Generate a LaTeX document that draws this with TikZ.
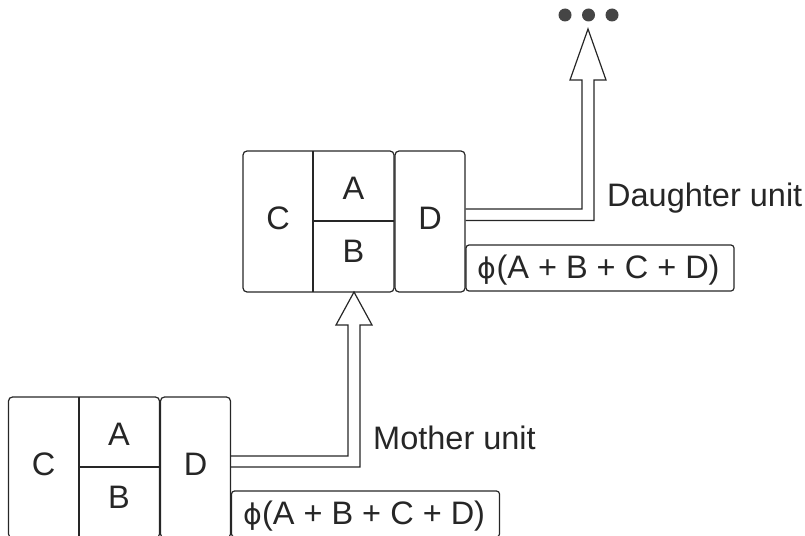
\documentclass[tikz,border=0pt]{standalone}
\usepackage{fontspec}
\setmainfont{Liberation Sans}
\newfontfamily\phifont{DejaVu Sans}
\newcommand{\myphi}{{\phifont\fontsize{28.5}{34}\selectfont ϕ}}
\definecolor{ink}{HTML}{262626}
\definecolor{dotc}{HTML}{454545}
\begin{document}
\begin{tikzpicture}[x=1pt,y=-1pt,
  every node/.style={text=ink},
  unitbox/.style={draw=ink, line width=1.2pt, rounded corners=4pt, inner sep=0pt},
  lbl/.style={inner sep=0pt, anchor=base, font=\fontsize{32.5}{38}\selectfont},
  wlbl/.style={inner sep=0pt, anchor=base west, font=\fontsize{32.5}{38}\selectfont},
  divider/.style={draw=ink, line width=1.2pt},
  hollow/.style={draw=ink, line width=1.2pt, line join=miter},
  dotnode/.style={circle, fill=dotc, minimum size=13pt, inner sep=0pt}]
\useasboundingbox (0,0) rectangle (805,535);
\clip (0,0) rectangle (805,535);

% ---------- Daughter unit (upper) ----------
\begin{scope}
  \node[unitbox, minimum width=151, minimum height=141] (dL) at (318.5,221.5) {};
  \node[unitbox, minimum width=70, minimum height=141] (dD) at (430,221.5) {};
  \node[unitbox, minimum width=268, minimum height=46, rounded corners=3pt] (dF) at (600,268) {};
  \coordinate (dv1) at (313,151);
  \coordinate (dv2) at (313,292);
  \coordinate (dh1) at (313,221);
  \coordinate (dh2) at (394,221);
  \draw[divider] (dv1) -- (dv2);
  \draw[divider] (dh1) -- (dh2);
  \node[lbl] (dC) at (278,229.5) {C};
  \node[lbl] (dA) at (353.5,199) {A};
  \node[lbl] (dB) at (353.5,262.5) {B};
  \node[lbl] (dDt) at (430,229) {D};
  \node[wlbl] (dFt) at (477.5,278.5) {\myphi(A + B + C + D)};
  \node[wlbl] (dLab) at (607,206) {Daughter unit};
\end{scope}

% ---------- Mother unit (lower) ----------
\begin{scope}
  \node[unitbox, minimum width=151, minimum height=141] (mL) at (84,467.5) {};
  \node[unitbox, minimum width=70, minimum height=141] (mD) at (195.5,467.5) {};
  \node[unitbox, minimum width=268, minimum height=46, rounded corners=3pt] (mF) at (365.5,514) {};
  \coordinate (mv1) at (79,397);
  \coordinate (mv2) at (79,538);
  \coordinate (mh1) at (79,467);
  \coordinate (mh2) at (160,467);
  \draw[divider] (mv1) -- (mv2);
  \draw[divider] (mh1) -- (mh2);
  \node[lbl] (mC) at (43.5,475.5) {C};
  \node[lbl] (mA) at (119,445) {A};
  \node[lbl] (mB) at (119,508.5) {B};
  \node[lbl] (mDt) at (195.5,475) {D};
  \node[wlbl] (mFt) at (243,524.5) {\myphi(A + B + C + D)};
  \node[wlbl] (mLab) at (373,449) {Mother unit};
\end{scope}

% ---------- dots ----------
\node[dotnode] (dot1) at (565,15) {};
\node[dotnode] (dot2) at (588.5,15) {};
\node[dotnode] (dot3) at (612,15) {};

% ---------- hollow arrows ----------
% mother -> daughter
\coordinate (ma1) at (mD.east |- 0,456);
\coordinate (ma2) at (mD.east |- 0,467);
\draw[hollow] (ma1) -- (348,456) -- (348,325) -- (336,325) -- (354,292)
  -- (372,325) -- (360,325) -- (360,467) -- (ma2);
% daughter -> dots
\coordinate (da1) at (dD.east |- 0,209);
\coordinate (da2) at (dD.east |- 0,220.5);
\draw[hollow] (da1) -- (582,209) -- (582,80) -- (570,80) -- (588,29)
  -- (606,80) -- (594,80) -- (594,220.5) -- (da2);
\end{tikzpicture}
\end{document}
